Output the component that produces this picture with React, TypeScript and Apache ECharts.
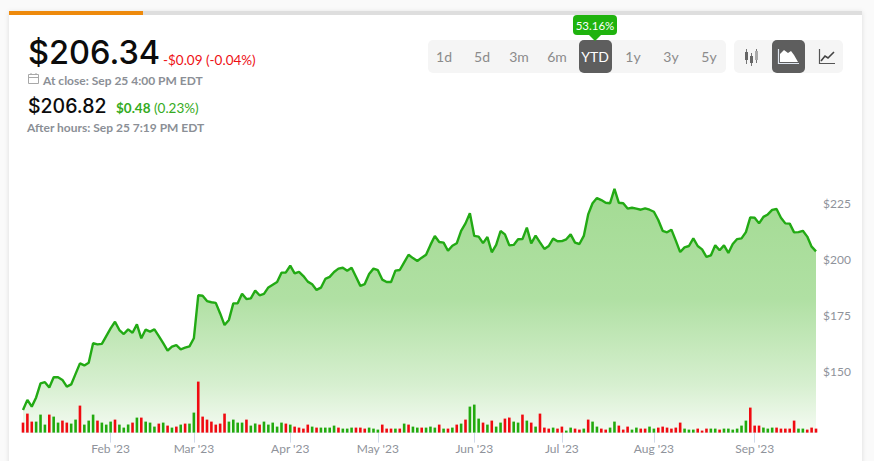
import React, { useEffect, useRef } from "react";
import * as echarts from "echarts";

const prices = [
  132.6,137.1,134.1,138.2,144.5,145,142.6,147.2,147.2,146,143,144,148.7,153.4,152.5,153.7,162.4,161.9,162.1,165.6,
  169,172,168.3,166.5,168.6,167.1,170.8,164.6,168.5,167.6,168.6,165.6,162.4,159.1,160.9,161.6,159.7,160.4,161,164.6,
  183.8,183.6,181.2,180.7,180.4,175.7,170.5,172.8,180.2,180.2,184.5,182.1,182.4,185.9,183.8,184.4,187.3,188.5,189.7,193.9,
  194,197,193.6,194.3,192.4,189.9,188.7,186.2,187.2,191.1,192,194.2,195.7,196.1,194.8,196.1,192.1,188,188.8,193.3,
  195.7,195,190.8,189.7,189.7,194.8,195.1,198.5,201.9,200.4,199.1,200.6,201.9,206.3,210.3,207.6,207.3,203.7,205.9,207,
  212.6,215.9,220.4,210.3,210,207.1,209.8,203,206.3,212.5,211,206.1,206.3,208.8,208.9,214,207,210.4,207.4,204.5,
  205.8,209.1,207.9,208,208.8,211,207.3,206.7,210.3,219.9,224.9,227.2,226.3,225.1,224.9,231.3,225.1,224.9,222.5,222.9,
  222.5,222,222.6,222,221.1,217.4,212.6,211.9,213.1,208.2,203.1,205.2,205.8,209.2,205.8,204.3,200.9,201.6,206.1,203.9,
  206.1,202.7,206.7,208.9,209.2,212,218.6,218.4,215.9,218.8,219.9,221.9,222.3,218.4,215.9,215.8,211.9,212,212.6,210,
  205.5,203.4,
];
const volumes = [
  10,19,11,11,18,8,18,16,10,12,10,9,13,27,8,12,18,12,10,8,
  11,13,8,5,8,10,15,15,11,10,6,9,10,7,5,6,8,9,9,20,
  51,16,13,11,8,9,19,11,13,10,10,13,7,9,8,11,8,10,6,10,
  9,8,6,5,4,8,6,5,5,5,5,7,5,4,4,5,5,5,4,5,
  4,3,8,4,4,4,4,9,8,6,5,5,5,6,5,8,4,4,5,8,
  9,13,26,28,14,10,8,12,6,10,14,15,11,10,18,12,10,6,19,5,
  4,5,4,6,2,5,4,3,4,13,11,6,4,3,5,11,7,3,6,3,
  5,4,4,6,4,5,6,5,4,5,10,4,3,3,4,2,4,4,4,3,
  4,4,3,4,7,12,25,7,7,5,4,5,5,4,4,4,12,4,4,3,
  5,4,
];
const volumeDirections = [
  "d","d","d","u","u","u","d","u","u","d","d","u","u","d","u","u","u","d","u","u",
  "u","d","u","u","u","d","u","d","u","u","u","d","u","d","u","d","u","d","u","u",
  "d","d","d","d","d","d","d","u","u","u","u","d","u","u","d","u","u","u","u","u",
  "d","u","d","d","d","d","u","d","u","u","u","u","d","u","u","u","d","d","d","u",
  "u","u","d","d","d","u","d","u","d","u","u","d","u","u","u","d","u","d","u","d",
  "u","d","u","u","u","d","u","d","u","u","d","d","u","u","d","u","d","u","d","d",
  "d","u","d","d","u","u","d","d","u","d","u","u","d","d","u","u","d","d","d","u",
  "u","d","d","u","u","d","d","d","d","d","d","u","u","u","d","d","d","u","u","d",
  "u","u","u","u","u","u","d","d","d","u","u","u","d","d","d","d","d","u","u","d",
  "d","d",
];
const tickIndexes = [20, 39, 61, 81, 103, 123, 144, 167];
const tickLabels = ["Feb '23", "Mar '23", "Apr '23", "May '23", "Jun '23", "Jul '23", "Aug '23", "Sep '23"];
const priceTicks = [150, 175, 200, 225];
const rangeButtons = ["1d", "5d", "3m", "6m", "YTD", "1y", "3y", "5y"];
const categories = prices.map((_, i) => String(i));

const FONT = "Lato, 'Open Sans', sans-serif";
const PRICE_FONT = "Inter, 'Open Sans', sans-serif";
const GREEN = "#22aa14";
const RED = "#ee0f14";

function label(text: string, x: number, y: number, size: number, fill: string, extra: any = {}) {
  return {
    type: "text",
    x,
    y,
    silent: true,
    style: {
      text,
      fill,
      fontSize: size,
      fontFamily: extra.family || FONT,
      fontWeight: extra.weight || 400,
      textAlign: extra.align || "left",
      textVerticalAlign: "middle",
    },
  };
}
const rect = (x: number, y: number, width: number, height: number, fill: string, r = 0, extra: any = {}) => ({
  type: "rect",
  shape: { x, y, width, height, r },
  style: { fill, ...extra },
  silent: true,
});
const line = (x1: number, y1: number, x2: number, y2: number, stroke: string, w = 1) => ({
  type: "line",
  shape: { x1, y1, x2, y2 },
  style: { stroke, lineWidth: w },
  silent: true,
});
const poly = (points: number[][], stroke: string, w = 1.5) => ({
  type: "polyline",
  shape: { points },
  style: { stroke, lineWidth: w, fill: "none" },
  silent: true,
});

export default function App() {
  const ref = useRef<HTMLDivElement>(null);
  useEffect(() => {
    const chart = echarts.init(ref.current!, undefined, { renderer: "svg" });
    const centers = [444, 482, 519, 557, 595, 633, 671, 709];
    const elements: any[] = [
      rect(9, 12, 853, 460, "#fff", 0, { shadowBlur: 5, shadowColor: "rgba(0,0,0,0.12)" }),
      rect(9, 11, 853, 4, "#dedede"),
      rect(9, 11, 134, 4, "#ee8a0c"),
      label("$206.34", 28, 52, 32.5, "#0c0c0c", { family: PRICE_FONT, weight: 500 }),
      label("-$0.09", 163, 60, 13.5, RED),
      label("(-0.04%)", 206, 60, 13.5, RED),
      rect(28.5, 74.5, 10, 9, "none", 0, { stroke: "#a8a8a8", lineWidth: 1 }),
      line(28, 77.5, 39, 77.5, "#a8a8a8", 1),
      line(31, 73, 31, 75, "#a8a8a8", 1),
      line(36, 73, 36, 75, "#a8a8a8", 1),
      label("At close: Sep 25 4:00 PM EDT", 43, 80, 12, "#8b8f96", { weight: 700 }),
      label("$206.82", 28, 106, 19.5, "#0c0c0c", { family: PRICE_FONT, weight: 500 }),
      label("$0.48", 116, 108, 13.5, "#35ab22", { weight: 700 }),
      label("(0.23%)", 154, 108, 13.5, "#35ab22"),
      label("After hours: Sep 25 7:19 PM EDT", 27, 127, 12, "#8b8f96", { weight: 700 }),
      rect(428, 40, 298, 33, "#f5f5f5", 5),
      rect(734, 40, 109, 33, "#f5f5f5", 5),
      rect(579, 40, 33, 33, "#5e5e5e", 5),
      rect(772, 40, 33, 33, "#5e5e5e", 5),
      rect(573, 15, 44, 20, "#1fb30e", 4),
      { type: "polygon", shape: { points: [[589, 35], [601, 35], [595, 41]] }, style: { fill: "#1fb30e" }, silent: true },
      label("53.16%", 595, 25, 11.5, "#fff", { align: "center" }),
      ...rangeButtons.map((t, i) =>
        label(t, centers[i], 56.5, 14, t === "YTD" ? "#fff" : "#8b8b8b", { align: "center" }),
      ),
      line(746.5, 49, 746.5, 64, "#777", 1),
      rect(745, 52, 3, 8, "#666"),
      line(751.5, 53, 751.5, 66, "#777", 1),
      rect(750, 56, 3, 7, "#666"),
      line(756.5, 49, 756.5, 63, "#777", 1),
      rect(755, 51, 3, 9, "#aaa"),
      poly([[778.5, 49], [778.5, 63.5], [799, 63.5]], "#dfe6f0", 1.2),
      {
        type: "polygon",
        shape: { points: [[780, 62], [780, 54], [784, 50], [788, 53], [791, 51], [794, 55], [798, 62]] },
        style: { fill: "#fff" },
        silent: true,
      },
      poly([[819.5, 49], [819.5, 63.5], [835, 63.5]], "#555", 1.2),
      poly([[821, 61], [825, 56], [828, 58], [834, 52]], "#444", 1.6),
    ];

    chart.setOption({
      animation: false,
      backgroundColor: "#fafafa",
      graphic: { elements },
      grid: [
        { left: 23, width: 793, top: 169.4, height: 263.2 },
        { left: 23, width: 793, top: 332.6, height: 100 },
      ],
      xAxis: [
        {
          gridIndex: 0,
          type: "category",
          data: categories,
          boundaryGap: false,
          axisLine: { show: false },
          axisTick: { show: false },
          axisLabel: { show: false },
        },
        {
          gridIndex: 1,
          type: "category",
          data: categories,
          boundaryGap: false,
          axisLine: { show: true, lineStyle: { color: "#dfe6f2", width: 1 } },
          axisTick: {
            show: true,
            length: 10,
            lineStyle: { color: "#cfd9ea" },
            interval: (i: number) => tickIndexes.includes(i),
          },
          axisLabel: {
            interval: (i: number) => tickIndexes.includes(i),
            formatter: (_: string, i: number) => tickLabels[tickIndexes.indexOf(i)] ?? "",
            color: "#8f939b",
            fontSize: 12,
            fontFamily: FONT,
            margin: 10,
            hideOverlap: false,
          },
        },
      ],
      yAxis: [
        {
          gridIndex: 0,
          type: "value",
          position: "right",
          min: 122.5,
          max: 240,
          splitLine: { show: false },
          axisLine: { show: false },
          axisTick: { show: false },
          axisLabel: {
            customValues: priceTicks,
            formatter: (v: number) => `$${v}`,
            color: "#8f939b",
            fontSize: 12,
            fontFamily: FONT,
            margin: 7,
          },
        },
        {
          gridIndex: 1,
          type: "value",
          min: 0,
          max: 100,
          show: false,
        },
      ],
      series: [
        {
          type: "line",
          xAxisIndex: 0,
          yAxisIndex: 0,
          data: prices,
          showSymbol: false,
          symbol: "none",
          smooth: false,
          lineStyle: { color: GREEN, width: 2.4 },
          itemStyle: { color: GREEN },
          areaStyle: {
            origin: "start",
            color: new echarts.graphic.LinearGradient(0, 0, 0, 1, [
              { offset: 0, color: "#a3db93" },
              { offset: 0.45, color: "#b0e0a3" },
              { offset: 0.8, color: "#d6efcf" },
              { offset: 1, color: "#f5fbf3" },
            ]),
            opacity: 1,
          },
          z: 2,
        },
        {
          type: "bar",
          xAxisIndex: 1,
          yAxisIndex: 1,
          barWidth: 2.6,
          clip: false,
          data: volumes.map((v, i) => ({
            value: v,
            itemStyle: { color: volumeDirections[i] === "u" ? "#22aa0e" : "#f00a10" },
          })),
          z: 3,
        },
      ],
    });
    return () => chart.dispose();
  }, []);
  return <div ref={ref} style={{ position: "fixed", left: 0, top: 0, width: 874, height: 461 }} />;
}
